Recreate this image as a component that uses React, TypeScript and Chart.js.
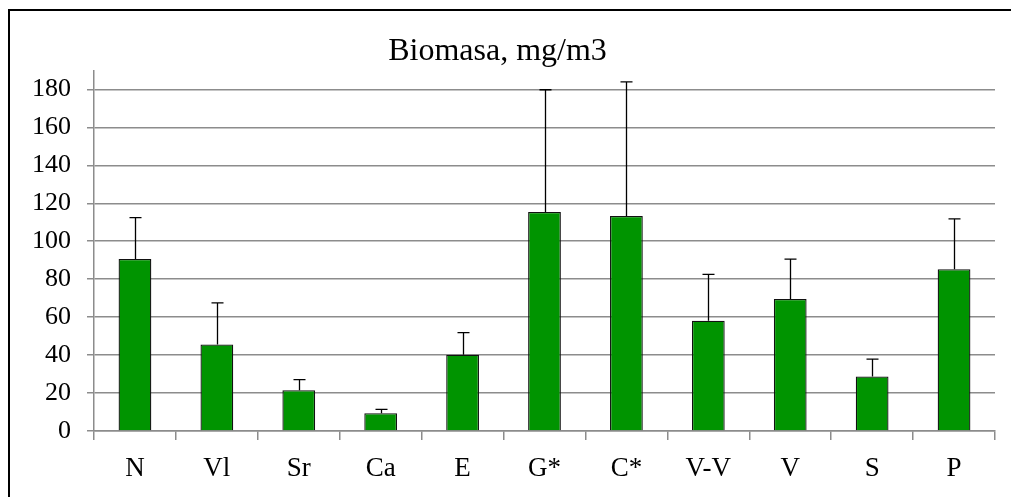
import React, { useEffect, useRef } from "react";
import { Chart, registerables } from "chart.js";

Chart.register(...registerables);

const categories = ["N", "Vl", "Sr", "Ca", "E", "G*", "C*", "V-V", "V", "S", "P"];
const biomass = [90.6, 45.6, 21.5, 9.4, 40.2, 115.4, 113.3, 58.1, 69.6, 28.7, 85.2];
const errorPlus = [21.8, 21.9, 5.6, 2.0, 11.6, 64.4, 70.7, 24.4, 21.0, 9.2, 26.6];
const yTicks = [0, 20, 40, 60, 80, 100, 120, 140, 160, 180];
const yAxisMax = 190;
const titleText = "Biomasa, mg/m3";

const FONT = '"Liberation Serif", "Times New Roman", serif';
const GRID = "#8c8c8c";

const errorBarPlugin = {
  id: "errorBars",
  afterDatasetsDraw(chart: any) {
    const meta = chart.getDatasetMeta(0);
    const yScale = chart.scales.y;
    const ctx = chart.ctx;
    ctx.save();
    ctx.strokeStyle = "#000";
    ctx.lineWidth = 1.3;
    meta.data.forEach((bar: any, i: number) => {
      const x = Math.round(bar.x) + 0.5;
      const yTop = yScale.getPixelForValue(biomass[i]);
      const yErr = yScale.getPixelForValue(biomass[i] + errorPlus[i]);
      ctx.beginPath();
      ctx.moveTo(x, yTop);
      ctx.lineTo(x, yErr);
      ctx.moveTo(x - 6, yErr);
      ctx.lineTo(x + 6, yErr);
      ctx.stroke();
    });
    ctx.restore();
  },
};

export default function App() {
  const ref = useRef<HTMLCanvasElement>(null);
  useEffect(() => {
    if (!ref.current) return;
    const chart = new Chart(ref.current, {
      type: "bar",
      data: {
        labels: categories,
        datasets: [
          {
            data: biomass,
            backgroundColor: "#009400",
            borderColor: "#111",
            borderWidth: 1.3,
            categoryPercentage: 1,
            barPercentage: 0.4,
          },
        ],
      },
      options: {
        responsive: false,
        animation: false,
        layout: { padding: { left: 0, right: 16, top: 0, bottom: 0 } },
        plugins: {
          legend: { display: false },
          tooltip: { enabled: false },
          title: {
            display: true,
            text: titleText,
            color: "#000",
            font: { family: FONT, size: 32, weight: "normal" },
            padding: { top: 32, bottom: 0 },
          },
        },
        scales: {
          x: {
            grid: {
              offset: true,
              drawOnChartArea: false,
              drawTicks: true,
              tickLength: 9,
              color: GRID,
              lineWidth: 1.5,
            },
            border: { display: true, color: GRID, width: 1.5 },
            ticks: {
              color: "#000",
              font: { family: FONT, size: 27 },
              padding: 13,
              maxRotation: 0,
            },
            afterFit: (s: any) => {
              s.height = 66;
            },
          },
          y: {
            min: 0,
            max: yAxisMax,
            ticks: {
              stepSize: 20,
              includeBounds: false,
              color: "#000",
              font: { family: FONT, size: 26 },
              padding: 16,
            },
            afterBuildTicks: (s: any) => {
              s.ticks = yTicks.map((v) => ({ value: v }));
            },
            grid: {
              color: GRID,
              lineWidth: 1.5,
              tickLength: 7,
              drawTicks: true,
            },
            border: { display: true, color: GRID, width: 1.5 },
            afterFit: (s: any) => {
              s.width = 94;
            },
          },
        },
      },
      plugins: [errorBarPlugin],
    });
    return () => chart.destroy();
  }, []);
  return (
    <>
      <div
        style={{
          position: "absolute",
          left: 8,
          top: 9,
          width: 1003,
          height: 488,
          boxSizing: "border-box",
          borderLeft: "2px solid #000",
          borderTop: "2px solid #000",
        }}
      />
      <canvas
        ref={ref}
        width={1011}
        height={497}
        style={{ position: "absolute", left: 0, top: 0, display: "block" }}
      />
    </>
  );
}
